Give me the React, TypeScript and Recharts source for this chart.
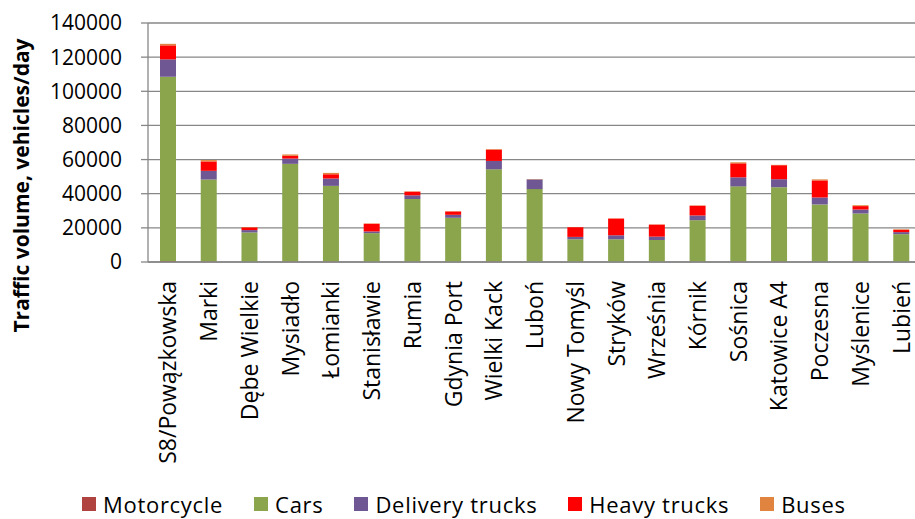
import { BarChart, Bar, XAxis, YAxis, CartesianGrid, Legend } from 'recharts';

const sites = [
  'S8/Powązkowska', 'Marki', 'Dębe Wielkie', 'Mysiadło', 'Łomianki', 'Stanisławie', 'Rumia',
  'Gdynia Port', 'Wielki Kack', 'Luboń', 'Nowy Tomyśl', 'Stryków', 'Września', 'Kórnik',
  'Sośnica', 'Katowice A4', 'Poczesna', 'Myślenice', 'Lubień',
];
const motorcycle = [500, 300, 100, 300, 300, 100, 200, 100, 300, 100, 100, 100, 100, 200, 300, 300, 200, 200, 100];
const cars = [108000, 48000, 17200, 57200, 44300, 16800, 36700, 25800, 54000, 42600, 13200, 13200, 12800, 24300, 44000, 43500, 33500, 28200, 16200];
const delivery = [10200, 5100, 1400, 3100, 4300, 1000, 2150, 1750, 4900, 5700, 1400, 2350, 1950, 2750, 5300, 4700, 4100, 2350, 1200];
const heavy = [8200, 5500, 1600, 1600, 2500, 4500, 2150, 1950, 6650, 0, 5700, 9800, 7050, 5700, 8200, 8200, 10000, 2000, 1400];
const buses = [900, 800, 200, 800, 800, 200, 200, 200, 300, 200, 100, 100, 100, 200, 600, 200, 600, 500, 300];
const yTicks = [0, 20000, 40000, 60000, 80000, 100000, 120000, 140000];

const series = [
  { key: 'Motorcycle', color: '#B0423F' },
  { key: 'Cars', color: '#8AA54C' },
  { key: 'Delivery trucks', color: '#6F5794' },
  { key: 'Heavy trucks', color: '#FF0000' },
  { key: 'Buses', color: '#E0843F' },
];

const data = sites.map((site, i) => ({
  site,
  idx: i,
  Motorcycle: motorcycle[i],
  Cars: cars[i],
  'Delivery trucks': delivery[i],
  'Heavy trucks': heavy[i],
  Buses: buses[i],
}));

const FONT = '"Open Sans", sans-serif';
const AXIS = '#878787';
const boundaryTicks = sites.map((_, i) => i).concat(sites.length);

function SiteTick({ x, y, payload }: any) {
  return (
    <text
      x={x}
      y={y}
      dy="0.35em"
      transform={`rotate(-90, ${x}, ${y})`}
      textAnchor="end"
      fontSize={23}
      fontFamily={FONT}
      fill="#000"
    >
      {payload.value}
    </text>
  );
}

function YTitle({ viewBox }: any) {
  const cx = viewBox.x + 22;
  const cy = viewBox.y + viewBox.height / 2 + 43;
  return (
    <text
      x={cx}
      y={cy}
      dy="0.35em"
      transform={`rotate(-90, ${cx}, ${cy})`}
      textAnchor="middle"
      fontSize={21}
      fontWeight={700}
      fontFamily={FONT}
      fill="#000"
    >
      Traffic volume, vehicles/day
    </text>
  );
}

function LegendRow() {
  return (
    <div style={{ display: 'flex', alignItems: 'center', fontFamily: FONT, fontSize: 22, lineHeight: '22px', letterSpacing: 0.7, color: '#000' }}>
      {series.map((s) => (
        <div key={s.key} style={{ display: 'flex', alignItems: 'center', marginRight: 31 }}>
          <span style={{ width: 14, height: 14, background: s.color, marginRight: 7, display: 'inline-block' }} />
          <span>{s.key}</span>
        </div>
      ))}
    </div>
  );
}

export default function App() {
  return (
    <div style={{ position: 'absolute', left: 0, top: 0, width: 915, height: 519, overflow: 'hidden', background: '#fff' }}>
      <BarChart
        width={922}
        height={519}
        data={data}
        margin={{ top: 23, right: 0, bottom: 0, left: 0 }}
        barSize={16}
      >
        <CartesianGrid vertical={false} stroke={AXIS} strokeWidth={1.3} />
        <XAxis
          xAxisId="edges"
          dataKey="idx"
          type="number"
          domain={[0, sites.length]}
          ticks={boundaryTicks}
          tick={false}
          axisLine={false}
          tickLine={{ stroke: AXIS, strokeWidth: 1.3 }}
          tickSize={7}
          height={0}
        />
        <XAxis
          xAxisId="cat"
          dataKey="site"
          interval={0}
          tick={<SiteTick />}
          tickLine={false}
          tickSize={0}
          tickMargin={19}
          axisLine={{ stroke: AXIS, strokeWidth: 1.3 }}
          height={257}
        />
        <YAxis
          domain={[0, 140000]}
          ticks={yTicks}
          width={148}
          tickSize={7}
          tickMargin={19}
          axisLine={{ stroke: AXIS, strokeWidth: 1.3 }}
          tickLine={{ stroke: AXIS, strokeWidth: 1.3 }}
          tick={{ fontSize: 21, fontFamily: FONT, fill: '#000' }}
          label={<YTitle />}
        />
        <Legend
          layout="horizontal"
          verticalAlign="middle"
          align="center"
          wrapperStyle={{ top: 493, left: 82, width: 833 }}
          content={<LegendRow />}
        />
        {series.map((s) => (
          <Bar key={s.key} xAxisId="cat" dataKey={s.key} stackId="a" fill={s.color} isAnimationActive={false} />
        ))}
      </BarChart>
    </div>
  );
}
